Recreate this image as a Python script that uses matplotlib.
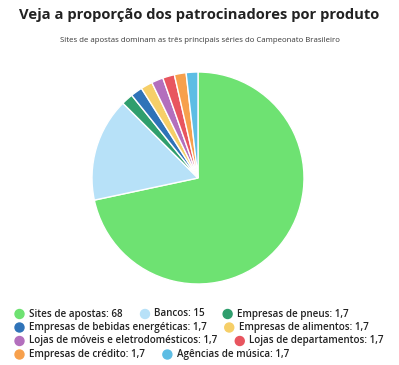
import matplotlib.pyplot as plt

plt.rcParams['font.family'] = ['Open Sans', 'DejaVu Sans']

labels = ["Sites de apostas", "Bancos", "Empresas de pneus",
          "Empresas de bebidas energéticas", "Empresas de alimentos",
          "Lojas de móveis e eletrodomésticos", "Lojas de departamentos",
          "Empresas de crédito", "Agências de música"]
values = [68, 15, 1.7, 1.7, 1.7, 1.7, 1.7, 1.7, 1.7]
value_text = ["68", "15", "1,7", "1,7", "1,7", "1,7", "1,7", "1,7", "1,7"]
colors = ["#6ee272", "#b7e1f8", "#2f9e6d", "#2f73b8", "#f6cf68",
          "#b36fbd", "#e8555f", "#f7a04c", "#5dbde4"]

fig = plt.figure(figsize=(3.99, 3.65), dpi=100)

fig.text(0.5, 1 - 15/365, "Veja a proporção dos patrocinadores por produto",
         ha="center", va="center", fontsize=10.6, fontweight="bold", color="#222222")
fig.text(0.5, 1 - 40/365, "Sites de apostas dominam as três principais séries do Campeonato Brasileiro",
         ha="center", va="center", fontsize=5.6, color="#444444",
         family=["Noto Sans", "DejaVu Sans"])

# pie
cx, cy, r = 198, 178, 106
ax = fig.add_axes([(cx - r) / 399, 1 - (cy + r) / 365, 2 * r / 399, 2 * r / 365])
ax.pie(values, colors=colors, startangle=90, counterclock=False,
       wedgeprops=dict(edgecolor="white", linewidth=1))
ax.set_aspect("auto")
ax.set_xlim(-1, 1)
ax.set_ylim(-1, 1)
ax.axis("off")

# flow legend
fig.canvas.draw()
renderer = fig.canvas.get_renderer()
x0, xmax = 15, 394
row_y = [314, 327.5, 341, 354.5]
x, row = x0, 0
for lab, val, col in zip(labels, value_text, colors):
    txt = lab + ": " + val
    t = fig.text(0, 0, txt, fontsize=7.1, fontweight="semibold", color="#222222", va="center")
    w = t.get_window_extent(renderer).width
    item_w = 14 + w
    if x + item_w > xmax and x > x0:
        row += 1
        x = x0
    y = row_y[row]
    fig.patches.append(plt.Circle((x + 4.5, 365 - y), 4.5, color=col,
                                  transform=None, figure=fig))
    t.set_position(((x + 14) / 399, 1 - y / 365))
    x += item_w + 18

fig.savefig("out.png", dpi=100)
